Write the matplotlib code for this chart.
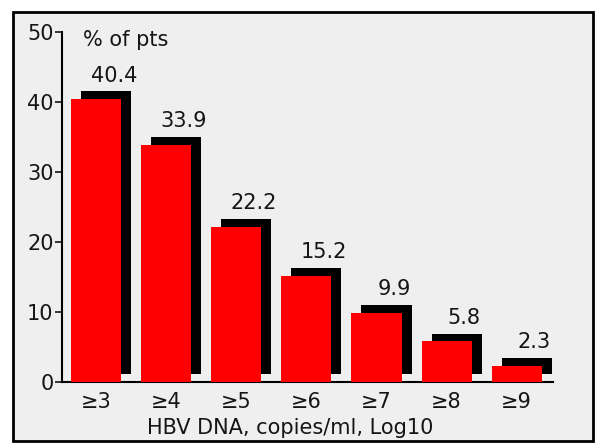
import matplotlib
matplotlib.use("Agg")
import matplotlib.pyplot as plt
from matplotlib.patches import Rectangle
import numpy as np

categories = ["≥3", "≥4", "≥5", "≥6", "≥7", "≥8", "≥9"]
values = [40.4, 33.9, 22.2, 15.2, 9.9, 5.8, 2.3]
yticks = [0, 10, 20, 30, 40, 50]

W, H = 596, 448
plt.rcParams['font.family'] = ['DejaVu Sans']
fig = plt.figure(figsize=(W / 100, H / 100), dpi=100, facecolor='white')

# outer frame
frame = Rectangle((13 / W, (H - 441) / H), (593 - 13) / W, (441 - 12) / H,
                  transform=fig.transFigure, facecolor='#efefef',
                  edgecolor='black', lw=2, zorder=-10)
fig.add_artist(frame)

ax = fig.add_axes([62 / W, (H - 382) / H, 491 / W, 350 / H])
ax.set_zorder(1)
ax.patch.set_alpha(0)

x = np.arange(len(categories))
bw = 50 / 70
dx = 10 / 70
dy = 1.1
fs = 15
tc = '#151515'

ax.bar(x + dx, values, width=bw, bottom=dy, color='black', zorder=2, clip_on=False)
ax.bar(x, values, width=bw, color='#ff0000', zorder=3)

for xi, v in zip(x, values):
    ax.text(xi + 0.25, v + dy + 1.4, f"{v}", ha='center', va='baseline',
            fontsize=fs, color=tc)

ax.set_xlim(-0.49, 6.52)
ax.set_ylim(0, 50)
ax.set_yticks(yticks)
ax.set_xticks(x)
ax.set_xticklabels(categories)
ax.tick_params(axis='y', length=5, width=1.2, pad=1, labelsize=fs, colors=tc)
ax.tick_params(axis='x', length=0, pad=7, labelsize=fs, colors=tc)

for s in ['top', 'right']:
    ax.spines[s].set_visible(False)
for s in ['left', 'bottom']:
    ax.spines[s].set_linewidth(1.5)

ax.text(-0.19, 48.9, "% of pts", ha='left', va='center', fontsize=fs, color=tc)
ax.text(0.464, -0.131, "HBV DNA, copies/ml, Log10", transform=ax.transAxes,
        ha='center', va='center', fontsize=fs, color=tc)

fig.savefig("out.png", dpi=100, facecolor='white')
